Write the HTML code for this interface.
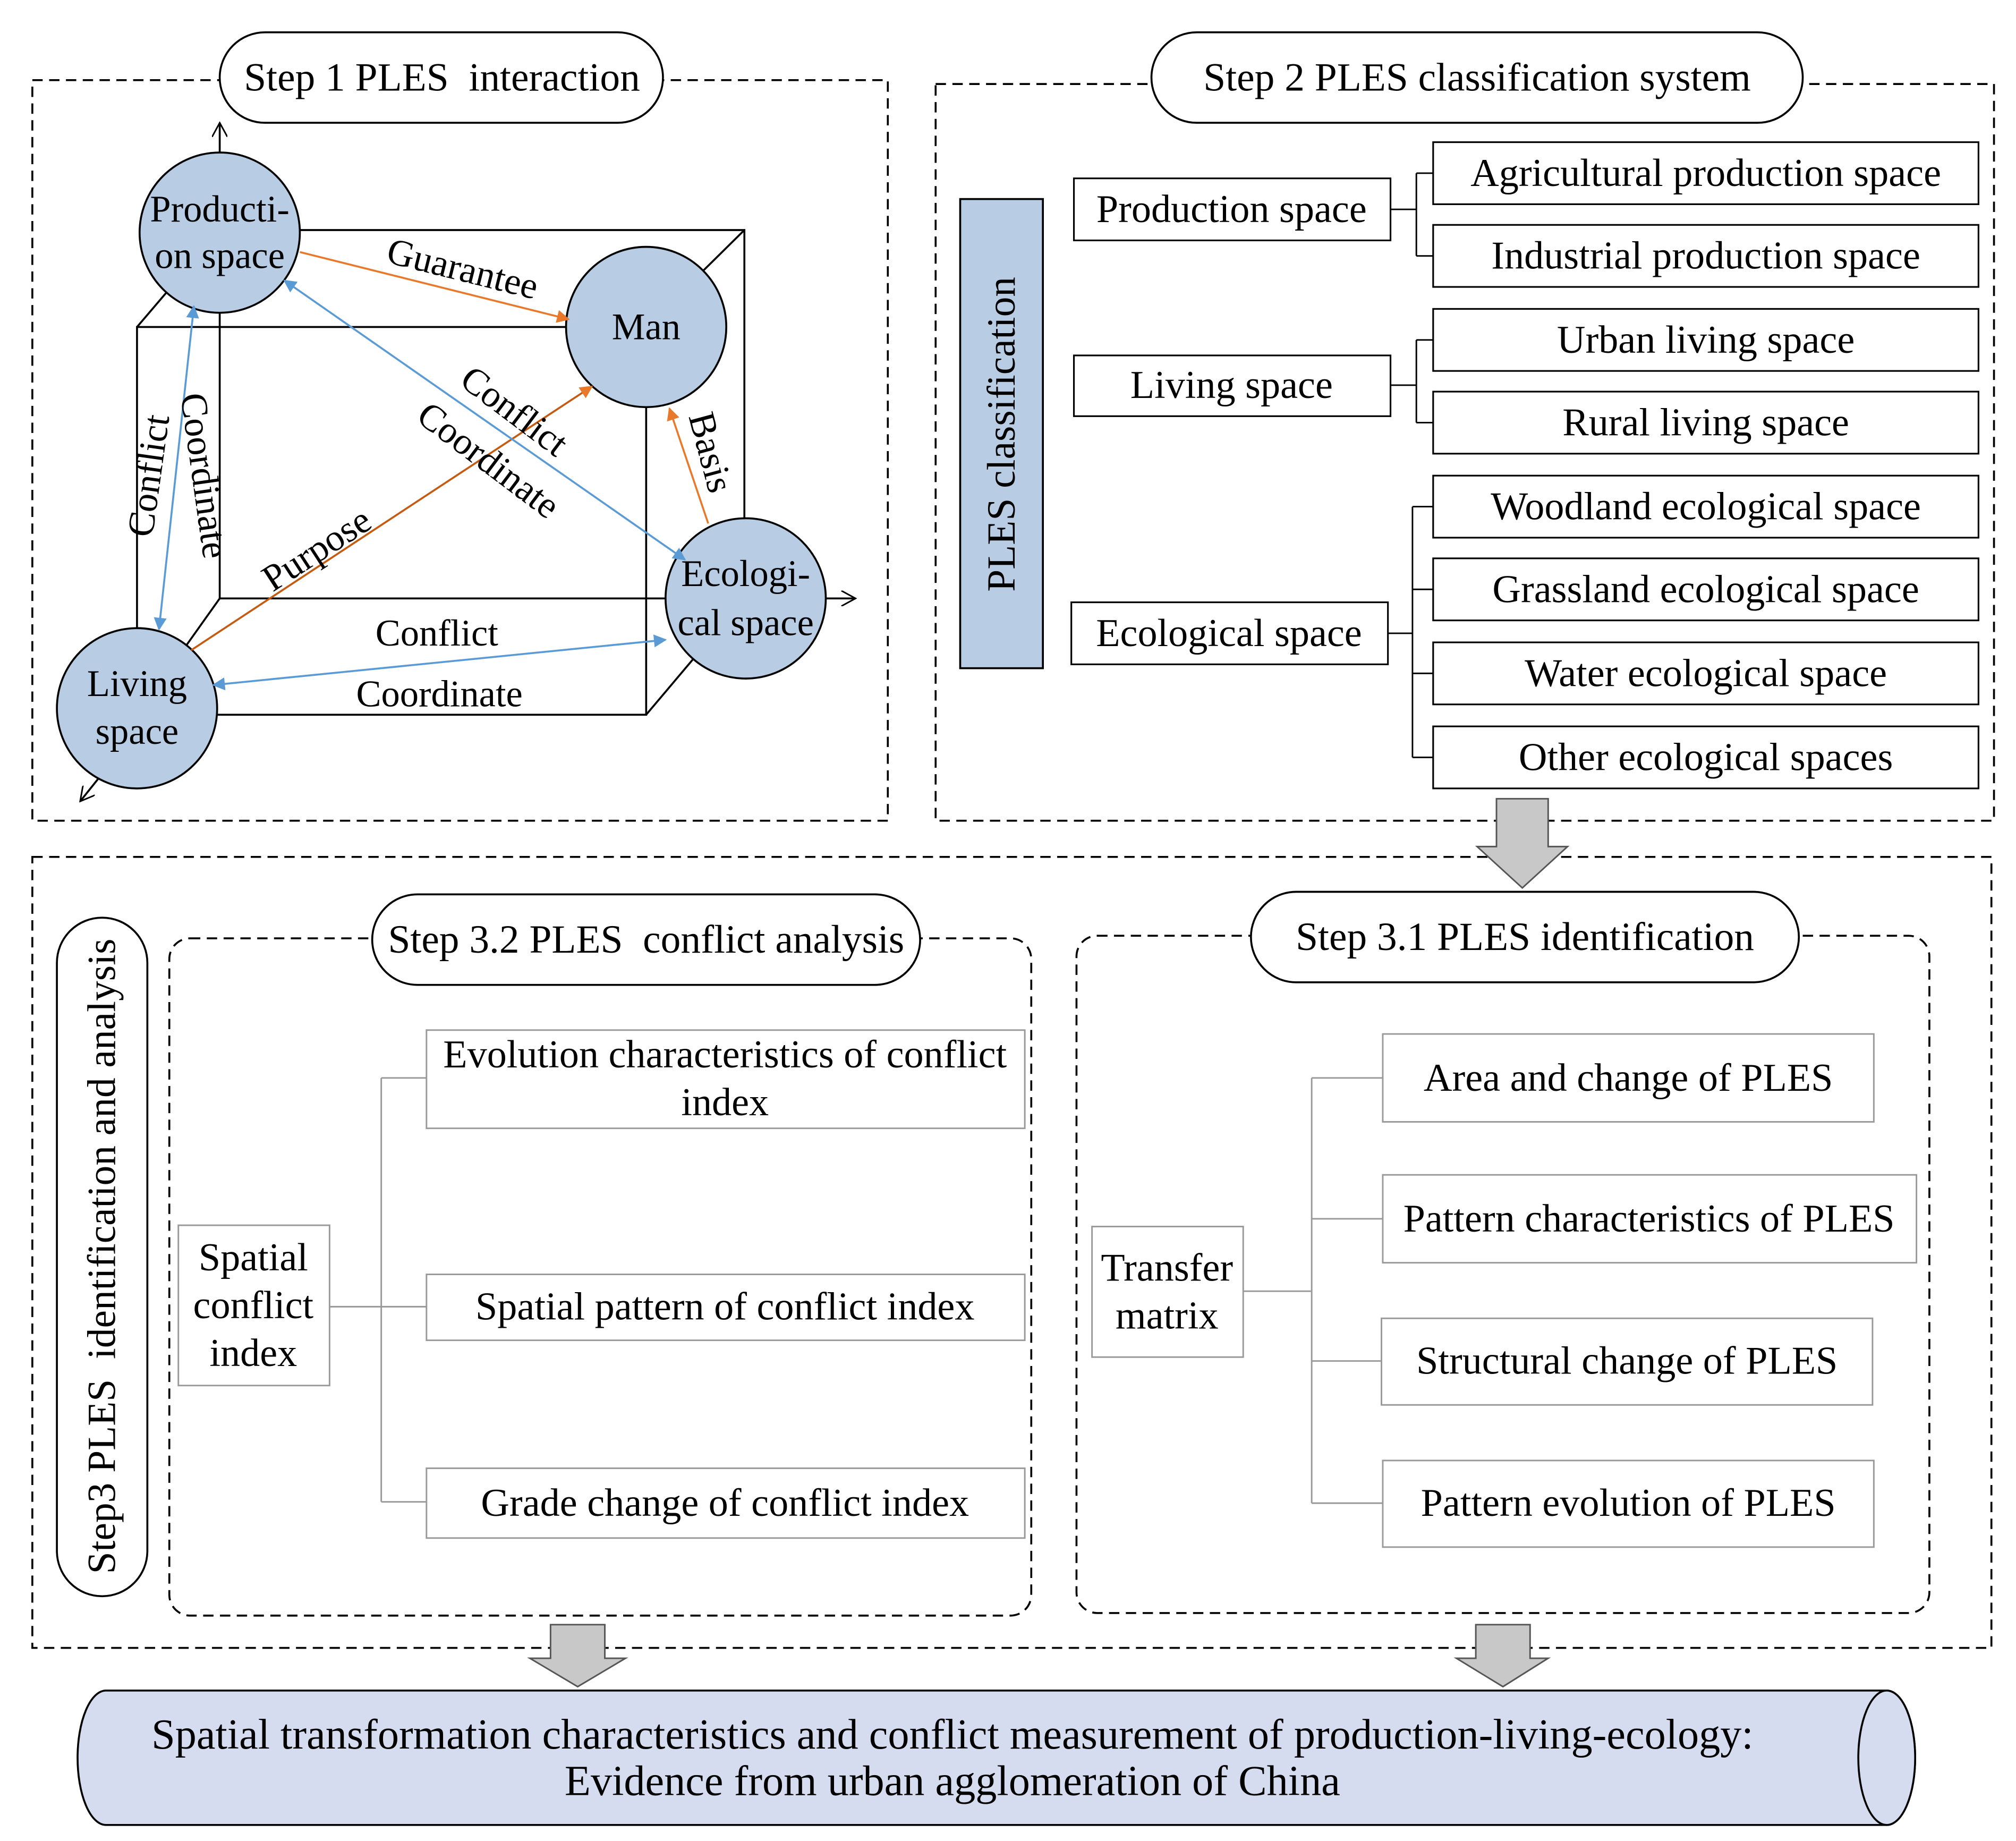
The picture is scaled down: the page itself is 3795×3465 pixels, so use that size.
<!DOCTYPE html>
<html><head><meta charset="utf-8"><style>
html,body{margin:0;padding:0;background:#fff;}
svg{display:block;}
text{font-family:"Liberation Serif",serif;fill:#000;white-space:pre;}
</style></head><body>
<svg width="3795" height="3465" viewBox="0 0 1560 1424.4" xmlns="http://www.w3.org/2000/svg">
<defs>
<marker id="ao" markerWidth="10" markerHeight="10" refX="9" refY="5" orient="auto" markerUnits="userSpaceOnUse"><path d="M0,0 L10,5 L0,10 Z" fill="#e8792a"/></marker>
<marker id="ab" markerWidth="10" markerHeight="10" refX="9" refY="5" orient="auto" markerUnits="userSpaceOnUse"><path d="M0,0 L10,5 L0,10 Z" fill="#5b9bd5"/></marker>
<marker id="abs" markerWidth="10" markerHeight="10" refX="1" refY="5" orient="auto" markerUnits="userSpaceOnUse"><path d="M10,0 L0,5 L10,10 Z" fill="#5b9bd5"/></marker>
<marker id="aopen" markerWidth="12" markerHeight="12" refX="11" refY="6" orient="auto" markerUnits="userSpaceOnUse"><path d="M0,0 L11,6 L0,12" fill="none" stroke="#000" stroke-width="1.2"/></marker>
</defs>
<g fill="none" stroke="#000" stroke-width="1.5" stroke-dasharray="8,5">
<rect x="25" y="62" width="662" height="573"/>
<rect x="724" y="65" width="819" height="570"/>
<rect x="25" y="663" width="1516" height="612"/>
<rect x="131" y="726" width="667" height="524" rx="16"/>
<rect x="833" y="724" width="660" height="524" rx="16"/>
</g>
<g fill="#fff" stroke="#000" stroke-width="1.5">
<rect x="170" y="25" width="343" height="70" rx="35"/>
<rect x="891" y="25" width="504" height="70" rx="35"/>
<rect x="288" y="692" width="424" height="70" rx="35"/>
<rect x="968" y="690" width="424" height="70" rx="35"/>
<rect x="44" y="710" width="70" height="525" rx="35"/>
</g>
<g font-size="31" text-anchor="middle" dominant-baseline="central">
<text x="342" y="60">Step 1 PLES  interaction</text>
<text x="1143" y="60">Step 2 PLES classification system</text>
<text x="500" y="727">Step 3.2 PLES  conflict analysis</text>
<text x="1180" y="725">Step 3.1 PLES identification</text>
<text transform="translate(79,972) rotate(-90)">Step3 PLES  identification and analysis</text>
</g>
<g fill="none" stroke="#000" stroke-width="1.5">
<rect x="106" y="253" width="394" height="300"/>
<polyline points="170,178 576,178 576,463 170,463 170,178"/>
<line x1="106" y1="253" x2="170" y2="178"/>
<line x1="500" y1="253" x2="576" y2="178"/>
<line x1="500" y1="553" x2="576" y2="463"/>
<line x1="106" y1="553" x2="170" y2="463"/>
<line x1="170" y1="118" x2="170" y2="95" marker-end="url(#aopen)"/>
<line x1="639" y1="463" x2="662" y2="463" marker-end="url(#aopen)"/>
<line x1="78" y1="600" x2="62" y2="620" marker-end="url(#aopen)"/>
</g>
<g fill="#b8cce4" stroke="#000" stroke-width="1.5">
<circle cx="170" cy="180" r="62"/>
<circle cx="500" cy="253" r="62"/>
<circle cx="577" cy="463" r="62"/>
<circle cx="106" cy="548" r="62"/>
</g>
<g font-size="29" text-anchor="middle" dominant-baseline="central">
<text x="170" y="162">Producti-</text><text x="170" y="198">on space</text>
<text x="500" y="253">Man</text>
<text x="577" y="444">Ecologi-</text><text x="577" y="482">cal space</text>
<text x="106" y="529">Living</text><text x="106" y="566">space</text>
</g>
<g fill="none" stroke-width="1.5">
<line x1="232" y1="195" x2="440" y2="247" stroke="#e8792a" marker-end="url(#ao)"/>
<line x1="148" y1="503" x2="458" y2="299" stroke="#c55a11" marker-end="url(#ao)"/>
<line x1="548" y1="405" x2="518" y2="316" stroke="#e8792a" marker-end="url(#ao)"/>
<line x1="150" y1="237" x2="123" y2="487" stroke="#5b9bd5" marker-start="url(#abs)" marker-end="url(#ab)"/>
<line x1="220" y1="217" x2="530" y2="433" stroke="#5b9bd5" marker-start="url(#abs)" marker-end="url(#ab)"/>
<line x1="165" y1="530" x2="515" y2="495" stroke="#5b9bd5" marker-start="url(#abs)" marker-end="url(#ab)"/>
</g>
<g font-size="29" text-anchor="middle" dominant-baseline="central">
<text transform="translate(358,208) rotate(14)">Guarantee</text>
<text transform="translate(245,425) rotate(-33)">Purpose</text>
<text transform="translate(550,350) rotate(75)">Basis</text>
<text transform="translate(115,368) rotate(-82)">Conflict</text>
<text transform="translate(158,368) rotate(82)">Coordinate</text>
<text transform="translate(398,318) rotate(37)">Conflict</text>
<text transform="translate(378,356) rotate(37)">Coordinate</text>
<text x="338" y="490">Conflict</text>
<text x="340" y="537">Coordinate</text>
</g>
<rect x="743" y="154" width="64" height="363" fill="#b8cce4" stroke="#000" stroke-width="1.5"/>
<text transform="translate(775,336) rotate(-90)" font-size="31" text-anchor="middle" dominant-baseline="central">PLES classification</text>
<g fill="#fff" stroke="#000" stroke-width="1.3">
<rect x="831" y="138" width="245" height="48"/>
<rect x="831" y="275" width="245" height="47"/>
<rect x="829" y="466" width="245" height="48"/>
<rect x="1109" y="110" width="422" height="48"/>
<rect x="1109" y="174" width="422" height="48"/>
<rect x="1109" y="239" width="422" height="48"/>
<rect x="1109" y="303" width="422" height="48"/>
<rect x="1109" y="368" width="422" height="48"/>
<rect x="1109" y="432" width="422" height="48"/>
<rect x="1109" y="497" width="422" height="48"/>
<rect x="1109" y="562" width="422" height="48"/>
</g>
<g fill="none" stroke="#000" stroke-width="1.2">
<path d="M1076,162 H1096 M1096,134 V198 M1096,134 H1109 M1096,198 H1109"/>
<path d="M1076,298 H1096 M1096,263 V327 M1096,263 H1109 M1096,327 H1109"/>
<path d="M1074,490 H1093 M1093,392 V586 M1093,392 H1109 M1093,456 H1109 M1093,521 H1109 M1093,586 H1109"/>
</g>
<g font-size="30.5" text-anchor="middle" dominant-baseline="central">
<text x="953" y="162">Production space</text>
<text x="953" y="298">Living space</text>
<text x="951" y="490">Ecological space</text>
<text x="1320" y="134">Agricultural production space</text>
<text x="1320" y="198">Industrial production space</text>
<text x="1320" y="263">Urban living space</text>
<text x="1320" y="327">Rural living space</text>
<text x="1320" y="392">Woodland ecological space</text>
<text x="1320" y="456">Grassland ecological space</text>
<text x="1320" y="521">Water ecological space</text>
<text x="1320" y="586">Other ecological spaces</text>
</g>
<g fill="#c8c8c8" stroke="#555" stroke-width="1.2">
<path d="M1158,618 H1198 V655 H1213 L1178,687 L1143,655 H1158 Z"/>
<path d="M426,1257 H468 V1283 H484 L447,1305 L410,1283 H426 Z"/>
<path d="M1142,1257 H1184 V1283 H1198 L1163,1305 L1127,1283 H1142 Z"/>
</g>
<g fill="#fff" stroke="#999" stroke-width="1.2">
<rect x="138" y="948" width="117" height="124"/>
<rect x="330" y="797" width="463" height="76"/>
<rect x="330" y="986" width="463" height="51"/>
<rect x="330" y="1136" width="463" height="54"/>
<rect x="845" y="949" width="117" height="101"/>
<rect x="1070" y="800" width="380" height="68"/>
<rect x="1070" y="909" width="413" height="68"/>
<rect x="1069" y="1020" width="380" height="67"/>
<rect x="1070" y="1130" width="380" height="67"/>
</g>
<g fill="none" stroke="#999" stroke-width="1.2">
<path d="M255,1011 H330 M295,834 V1162 M295,834 H330 M295,1162 H330"/>
<path d="M962,999 H1015 M1015,834 V1163 M1015,834 H1070 M1015,943 H1070 M1015,1053 H1069 M1015,1163 H1070"/>
</g>
<g font-size="30.5" text-anchor="middle" dominant-baseline="central">
<text x="196" y="973">Spatial</text><text x="196" y="1010">conflict</text><text x="196" y="1047">index</text>
<text x="561" y="816">Evolution characteristics of conflict</text><text x="561" y="853">index</text>
<text x="561" y="1011">Spatial pattern of conflict index</text>
<text x="561" y="1163">Grade change of conflict index</text>
<text x="903" y="981">Transfer</text><text x="903" y="1018">matrix</text>
<text x="1260" y="834">Area and change of PLES</text>
<text x="1276" y="943">Pattern characteristics of PLES</text>
<text x="1259" y="1053">Structural change of PLES</text>
<text x="1260" y="1163">Pattern evolution of PLES</text>
</g>
<path d="M82,1308 H1460 A22,52 0 0 1 1460,1412 H82 A22,52 0 0 1 82,1308 Z" fill="#d6dcf0" stroke="#000" stroke-width="1.5"/>
<ellipse cx="1460" cy="1360" rx="22" ry="52" fill="#d6dcf0" stroke="#000" stroke-width="1.5"/>
<g font-size="33" text-anchor="middle" dominant-baseline="central">
<text x="737" y="1342">Spatial transformation characteristics and conflict measurement of production-living-ecology:</text>
<text x="737" y="1378">Evidence from urban agglomeration of China</text>
</g>
</svg>
</body></html>
